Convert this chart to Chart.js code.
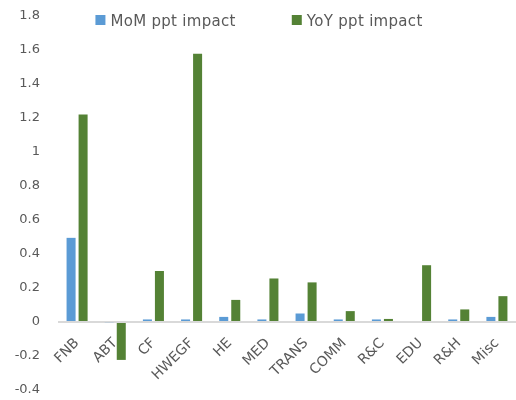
<!DOCTYPE html>
<html>
<head>
<meta charset="utf-8">
<script src="https://cdn.jsdelivr.net/npm/chart.js@4/dist/chart.umd.min.js"></script>
<style>
  html, body { margin: 0; padding: 0; background: #fff; }
  #wrap { width: 516px; height: 400px; position: relative; }
</style>
</head>
<body>
<div id="wrap"><canvas id="c"></canvas></div>
<script>
// Sector categories
const categories = ['FNB', 'ABT', 'CF', 'HWEGF', 'HE', 'MED', 'TRANS', 'COMM', 'R&C', 'EDU', 'R&H', 'Misc'];

// Percentage-point impact by sector
const momImpact = [0.495, -0.005, 0.015, 0.015, 0.03, 0.015, 0.05, 0.015, 0.015, 0, 0.015, 0.03];
const yoyImpact = [1.22, -0.223, 0.30, 1.578, 0.13, 0.256, 0.233, 0.064, 0.018, 0.334, 0.074, 0.152];

const seriesNames = ['MoM ppt impact', 'YoY ppt impact'];

// Value axis
const yMin = -0.4;
const yMax = 1.8;
const yStep = 0.2;

const textColor = '#595959';
const fontFamily = '"DejaVu Sans", sans-serif';

// Legend drawn across the top of the canvas, over the plot
const topLegend = {
  id: 'topLegend',
  afterDraw(chart) {
    const ctx = chart.ctx;
    const box = 10, gapText = 5, gapItem = 56;
    ctx.save();
    ctx.font = '15px ' + fontFamily;
    ctx.letterSpacing = '0.3px';
    ctx.textBaseline = 'middle';
    const items = chart.data.datasets.map(d => ({
      label: d.label, color: d.backgroundColor,
      w: box + gapText + ctx.measureText(d.label).width
    }));
    const total = items.reduce((s, it) => s + it.w, 0) + gapItem * (items.length - 1);
    let x = chart.width / 2 + 1 - total / 2;
    const cy = 20;
    items.forEach(it => {
      ctx.fillStyle = it.color;
      ctx.fillRect(x, cy - box / 2, box, box);
      ctx.fillStyle = textColor;
      ctx.textAlign = 'left';
      ctx.fillText(it.label, x + box + gapText, cy + 2);
      x += it.w + gapItem;
    });
    ctx.restore();
  }
};

new Chart(document.getElementById('c'), {
  type: 'bar',
  data: {
    labels: categories,
    datasets: [
      { label: seriesNames[0], data: momImpact, backgroundColor: '#5B9BD5',
        categoryPercentage: 0.63, barPercentage: 0.75 },
      { label: seriesNames[1], data: yoyImpact, backgroundColor: '#548235',
        categoryPercentage: 0.63, barPercentage: 0.75 }
    ]
  },
  options: {
    responsive: true,
    maintainAspectRatio: false,
    animation: false,
    layout: { padding: { top: 16, bottom: 10, left: 0, right: 0 } },
    plugins: {
      legend: { display: false },
      tooltip: { enabled: false }
    },
    scales: {
      x: {
        position: { y: 0 },
        afterFit(s) {
          s.height = 0;
          s.paddingTop = 0; s.paddingBottom = 0;
          s.paddingLeft = 0; s.paddingRight = 0;
        },
        grid: { display: false, drawTicks: false },
        border: { display: false },
        ticks: {
          color: textColor,
          font: { family: fontFamily, size: 14 },
          minRotation: 45,
          maxRotation: 45,
          autoSkip: false,
          padding: 13
        }
      },
      y: {
        min: yMin,
        max: yMax,
        afterFit(s) {
          s.width = 58;
          s.paddingTop = 0; s.paddingBottom = 0;
        },
        border: { display: false },
        grid: {
          drawTicks: false,
          lineWidth: 2,
          color: c => (c.tick && Math.abs(c.tick.value) < 1e-9) ? '#D9D9D9' : 'rgba(0,0,0,0)'
        },
        ticks: {
          stepSize: yStep,
          color: textColor,
          font: { family: fontFamily, size: 13 },
          padding: 18,
          callback: v => String(Number(v.toFixed(1)))
        }
      }
    }
  },
  plugins: [topLegend]
});
</script>
</body>
</html>
